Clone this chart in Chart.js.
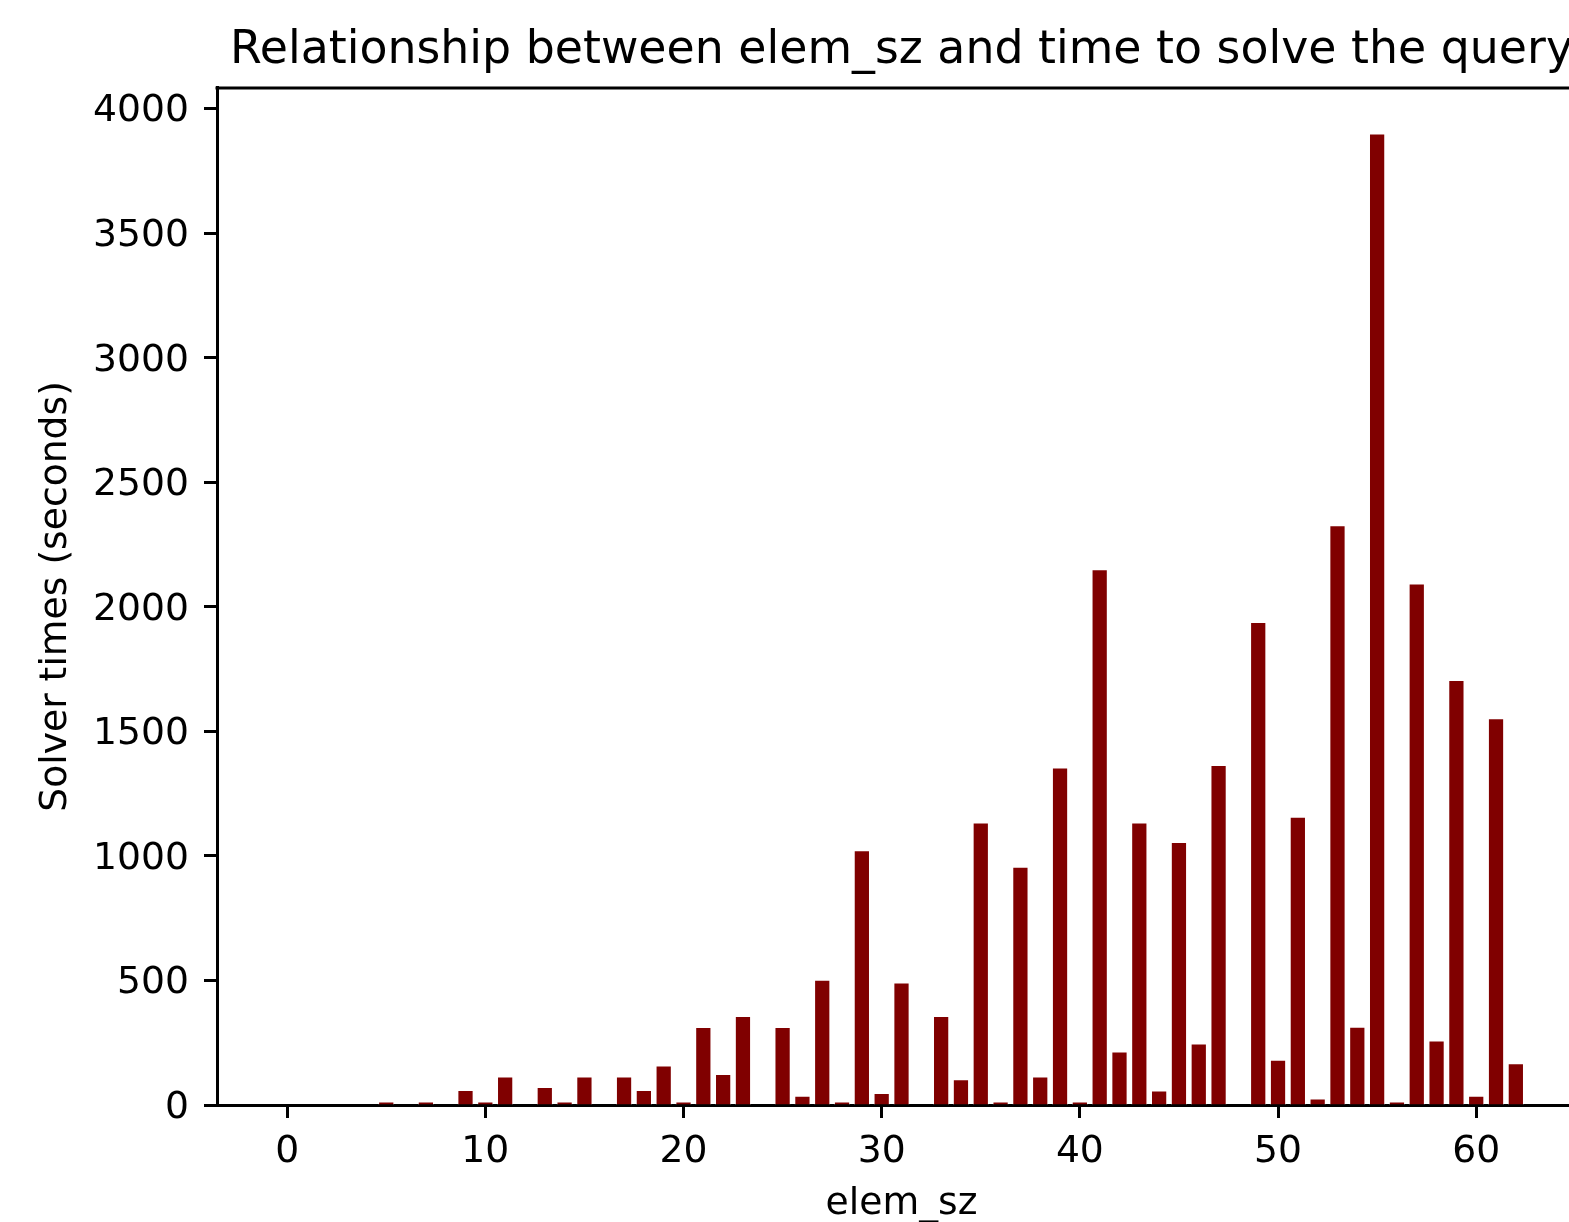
<!DOCTYPE html>
<html>
<head>
<meta charset="utf-8">
<script src="https://cdn.jsdelivr.net/npm/chart.js@4.4.1/dist/chart.umd.min.js"></script>
<style>
  html, body { margin: 0; padding: 0; background: #fff; overflow: hidden; }
  canvas { display: block; }
</style>
</head>
<body>
<canvas id="c" width="1600" height="1222"></canvas>
<script>
const elemSz = [0,1,2,3,4,5,6,7,8,9,10,11,12,13,14,15,16,17,18,19,20,21,22,23,24,25,26,27,28,29,30,31,32,33,34,35,36,37,38,39,40,41,42,43,44,45,46,47,48,49,50,51,52,53,54,55,56,57,58,59,60,61,62];
const solveTimes = [0,0,0,0,0,13,0,13,0,59,13,114,0,71,13,114,0,114,59,158,13,312,124,356,0,312,36,502,13,1022,47,491,0,356,103,1133,13,956,114,1354,13,2150,214,1133,57,1055,246,1364,0,1938,181,1156,25,2327,313,3899,13,2093,258,1705,36,1552,167];
const xTickValues = [0,10,20,30,40,50,60];
const yTickValues = [0,500,1000,1500,2000,2500,3000,3500,4000];

const titleText = 'Relationship between elem_sz and time to solve the query';
const xLabel = 'elem_sz';
const yLabel = 'Solver times (seconds)';

const FONT = 'DejaVu Sans';
const INK = '#000';
const LW = 3;

const topSpine = {
  id: 'topSpine',
  afterDraw(chart) {
    const {ctx, chartArea} = chart;
    ctx.save();
    ctx.strokeStyle = INK;
    ctx.lineWidth = LW;
    ctx.beginPath();
    ctx.moveTo(chartArea.left - LW / 2, chartArea.top);
    ctx.lineTo(chartArea.right, chartArea.top);
    ctx.moveTo(chartArea.right, chartArea.top);
    ctx.lineTo(chartArea.right, chartArea.bottom);
    ctx.stroke();
    ctx.restore();
  }
};

new Chart(document.getElementById('c'), {
  type: 'bar',
  data: {
    datasets: [{
      data: elemSz.map((x, i) => ({x: x, y: solveTimes[i]})),
      backgroundColor: '#800000',
      borderColor: '#ffffff',
      borderWidth: 0.8,
      borderSkipped: 'start',
      categoryPercentage: 1.0,
      barPercentage: 0.8
    }]
  },
  options: {
    responsive: false,
    animation: false,
    layout: { padding: { left: 0, right: 14, top: 0, bottom: 0 } },
    plugins: {
      legend: { display: false },
      tooltip: { enabled: false },
      title: {
        display: true,
        text: titleText,
        fullSize: false,
        color: INK,
        font: { family: FONT, size: 45.8, weight: 'normal', lineHeight: 1.2 },
        padding: { top: 24, bottom: 9 }
      }
    },
    scales: {
      x: {
        type: 'linear',
        min: -3.54,
        max: 65.54,
        offset: false,
        z: 1,
        afterBuildTicks: (s) => { s.ticks = xTickValues.map(v => ({value: v})); },
        afterFit: (s) => { s.height = 117; },
        grid: { display: true, drawOnChartArea: false, drawTicks: true, tickLength: 13, tickWidth: LW, tickColor: INK, offset: false },
        border: { display: true, color: INK, width: LW },
        ticks: {
          color: INK,
          padding: 12,
          maxRotation: 0,
          autoSkip: false,
          font: { family: FONT, size: 37.7 },
          callback: (v) => String(v)
        },
        title: {
          display: true,
          text: xLabel,
          color: INK,
          font: { family: FONT, size: 37.7, lineHeight: 1.0 },
          padding: { top: 0, bottom: -1 }
        }
      },
      y: {
        type: 'linear',
        min: 0,
        max: 4083,
        z: 1,
        afterBuildTicks: (s) => { s.ticks = yTickValues.map(v => ({value: v})); },
        afterFit: (s) => { s.width = 217; },
        grid: { display: true, drawOnChartArea: false, drawTicks: true, tickLength: 13, tickWidth: LW, tickColor: INK },
        border: { display: true, color: INK, width: LW },
        ticks: {
          color: INK,
          padding: 15,
          labelOffset: 3,
          autoSkip: false,
          font: { family: FONT, size: 37.7 },
          callback: (v) => String(v)
        },
        title: {
          display: true,
          text: yLabel,
          color: INK,
          font: { family: FONT, size: 37.7, lineHeight: 1.2 },
          padding: { top: 34, bottom: 0 }
        }
      }
    }
  },
  plugins: [topSpine]
});
</script>
</body>
</html>
